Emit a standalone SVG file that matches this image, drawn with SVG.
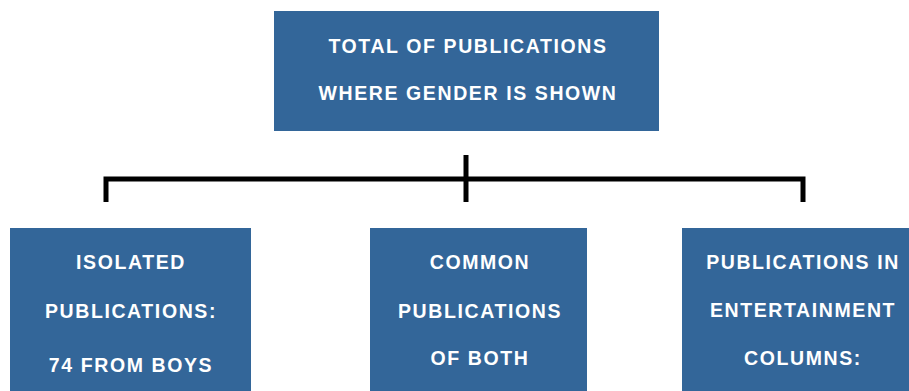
<svg xmlns="http://www.w3.org/2000/svg" width="909" height="391" viewBox="0 0 909 391">
<style>
.box{fill:#336699}
.t{font-family:"Liberation Sans",Arial,sans-serif;font-weight:bold;fill:#fff;text-anchor:middle;font-size:19.5px;letter-spacing:1.6px}
.conn{stroke:#000;stroke-width:5;fill:none}
</style>
<rect width="909" height="391" fill="#fff"/>
<g id="connectors">
<path class="conn" d="M106 202 V179 H803 V202"/>
<path class="conn" d="M466 155 V202"/>
</g>
<g id="top">
<rect class="box" x="274" y="11" width="385" height="120"/>
<text class="t" x="468" y="52.5">TOTAL OF PUBLICATIONS</text>
<text class="t" x="468" y="100">WHERE GENDER IS SHOWN</text>
</g>
<g id="isolated">
<rect class="box" x="10" y="228" width="241" height="163"/>
<text class="t" x="131" y="268.5">ISOLATED</text>
<text class="t" x="131" y="318">PUBLICATIONS:</text>
<text class="t" x="131" y="372">74 FROM BOYS</text>
</g>
<g id="common">
<rect class="box" x="370" y="228" width="217" height="163"/>
<text class="t" x="480" y="268.5">COMMON</text>
<text class="t" x="480" y="318">PUBLICATIONS</text>
<text class="t" x="480" y="365">OF BOTH</text>
</g>
<g id="entertainment">
<rect class="box" x="682" y="228" width="227" height="163"/>
<text class="t" x="803" y="268.5">PUBLICATIONS IN</text>
<text class="t" x="803" y="317">ENTERTAINMENT</text>
<text class="t" x="803" y="365">COLUMNS:</text>
</g>
</svg>
